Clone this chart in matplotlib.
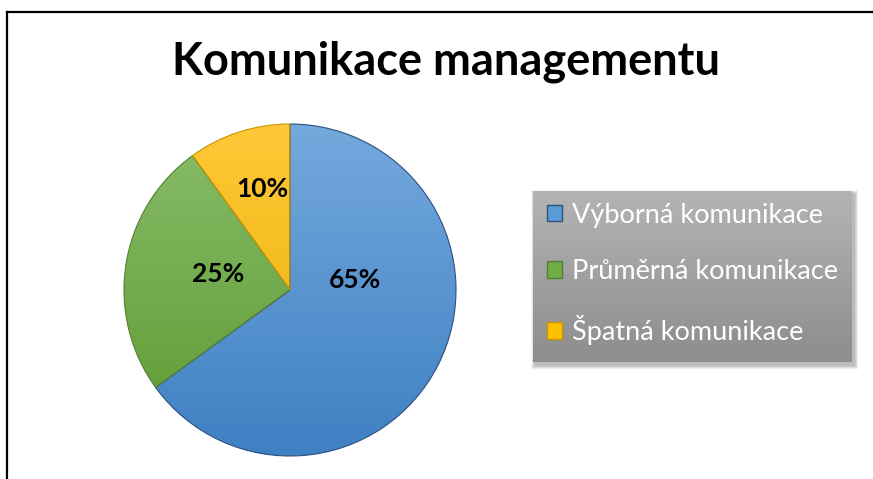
import numpy as np
import matplotlib
matplotlib.use('Agg')
import matplotlib.pyplot as plt
from matplotlib.colors import LinearSegmentedColormap
from matplotlib.patches import Rectangle

title = "Komunikace managementu"
categories = ["Výborná komunikace", "Průměrná komunikace", "Špatná komunikace"]
values = [65, 25, 10]
pct_labels = ["65%", "25%", "10%"]

face_colors = ["#5b9bd5", "#70ad47", "#ffc000"]
top_colors = ["#74a9dd", "#88bd69", "#ffc838"]
bottom_colors = ["#3f80c3", "#5d9932", "#e6af00"]
edge_colors = ["#2f4f7f", "#567f34", "#c49600"]

plt.rcParams['font.family'] = ['Lato', 'DejaVu Sans']

W, H = 873, 479
fig = plt.figure(figsize=(W / 100, H / 100), dpi=100)
ax = fig.add_axes([0, 0, 1, 1])

# pie in pixel coordinates (y up)
cx, cy, r = 290, H - 290, 166
wedges, _ = ax.pie(values, colors=face_colors, startangle=90, counterclock=False,
                   center=(cx, cy), radius=r, frame=True,
                   wedgeprops=dict(linewidth=0.8))

grad = np.linspace(0, 1, 256).reshape(-1, 1)
for w, c0, c1, ec in zip(wedges, top_colors, bottom_colors, edge_colors):
    cmap = LinearSegmentedColormap.from_list('g', [c1, c0])
    im = ax.imshow(grad, cmap=cmap, extent=[cx - r, cx + r, cy - r, cy + r],
                   origin='lower', aspect='auto', zorder=1.5)
    im.set_clip_path(w)
    w.set_facecolor('none')
    w.set_edgecolor(ec)
    w.set_zorder(2)

# percentage labels (positions as placed by the original chart)
label_pos = [(355, 280), (218, 274), (262, 189)]
for (x, y), t in zip(label_pos, pct_labels):
    ax.text(x, H - y, t, ha='center', va='center', fontsize=19,
            fontweight='bold', color='black', zorder=3)

ax.text(446, H - 62, title, ha='center', va='center', fontsize=32.5,
        fontweight='bold', color='black')

# legend background: gradient box with soft shadow
lx0, lx1, ly0, ly1 = 533, 852, 191, 362
for d in range(8, 0, -1):
    ax.add_patch(Rectangle((lx0 + 2 - d / 2, H - ly1 - 3 - d / 2),
                           lx1 - lx0 + d, ly1 - ly0 + d,
                           facecolor='black', edgecolor='none', alpha=0.035, zorder=3))
lcmap = LinearSegmentedColormap.from_list('lg', ["#8d8d8d", "#b4b4b4"])
ax.imshow(grad, cmap=lcmap, extent=[lx0, lx1, H - ly1, H - ly0],
          origin='lower', aspect='auto', zorder=4)

handles = [Rectangle((0, 0), 1, 1, facecolor=fc, edgecolor=ec, linewidth=1.0)
           for fc, ec in zip(face_colors, edge_colors)]
leg = ax.legend(handles, categories, loc='center left',
                bbox_to_anchor=(547 / W, 1 - 274 / H), frameon=False,
                fontsize=19.5, labelcolor='white', handlelength=0.55,
                handleheight=0.55, handletextpad=0.37, labelspacing=1.15,
                borderpad=0, borderaxespad=0)
leg.set_zorder(5)

# outer chart border (left and top visible)
ax.plot([7, 7], [-5, H - 12], color='black', linewidth=1.6, zorder=6)
ax.plot([7, W + 5], [H - 12, H - 12], color='black', linewidth=1.6, zorder=6)

ax.set_xlim(0, W)
ax.set_ylim(0, H)
ax.set_aspect('auto')
ax.axis('off')

fig.savefig('out.png', dpi=100, facecolor='white')
